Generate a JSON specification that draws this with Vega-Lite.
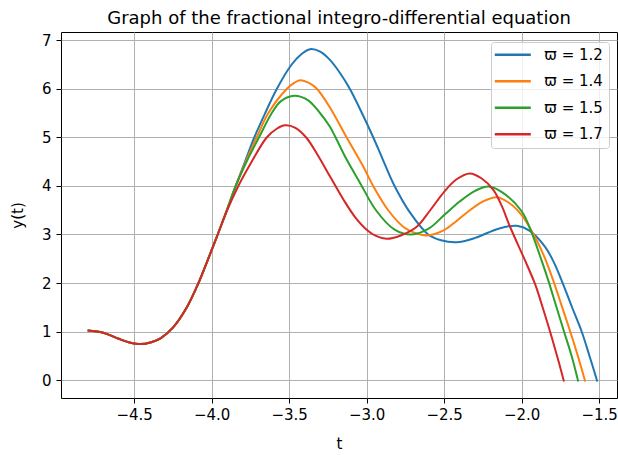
{
  "$schema": "https://vega.github.io/schema/vega-lite/v6.json",
  "width": 556,
  "height": 366,
  "autosize": {"type": "none"},
  "padding": {"left": 61, "top": 32, "right": 1, "bottom": 57},
  "background": "white",
  "title": {"text": "Graph of the fractional integro-differential equation", "fontSize": 18, "font": "DejaVu Sans", "fontWeight": "normal", "color": "black", "baseline": "bottom", "offset": -14, "anchor": "middle"},
  "config": {
    "view": {"stroke": "black", "strokeWidth": 1},
    "font": "DejaVu Sans",
    "axis": {
      "grid": true, "gridColor": "#b0b0b0", "gridWidth": 1, "gridOpacity": 1,
      "domain": false,
      "tickColor": "black", "tickSize": 5, "tickWidth": 1,
      "labelFont": "DejaVu Sans", "labelFontSize": 15, "labelColor": "black", "labelPadding": 4,
      "titleFont": "DejaVu Sans", "titleFontSize": 15, "titleFontWeight": "normal", "titleColor": "black"
    }
  },
  "datasets": {
    "pts": [
      {"t": -4.8, "y": 1.02, "s": "ϖ = 1.2"}, {"t": -4.7, "y": 0.975, "s": "ϖ = 1.2"}, {"t": -4.6, "y": 0.85, "s": "ϖ = 1.2"}, {"t": -4.53, "y": 0.775, "s": "ϖ = 1.2"}, {"t": -4.46, "y": 0.74, "s": "ϖ = 1.2"}, {"t": -4.39, "y": 0.78, "s": "ϖ = 1.2"}, {"t": -4.33, "y": 0.86, "s": "ϖ = 1.2"}, {"t": -4.25, "y": 1.08, "s": "ϖ = 1.2"}, {"t": -4.16, "y": 1.5, "s": "ϖ = 1.2"}, {"t": -4.085, "y": 2.0, "s": "ϖ = 1.2"}, {"t": -4.011, "y": 2.59, "s": "ϖ = 1.2"}, {"t": -3.961, "y": 3.0, "s": "ϖ = 1.2"}, {"t": -3.9, "y": 3.52, "s": "ϖ = 1.2"}, {"t": -3.845, "y": 4.0, "s": "ϖ = 1.2"},
      {"t": -3.785, "y": 4.5, "s": "ϖ = 1.2"}, {"t": -3.725, "y": 5.0, "s": "ϖ = 1.2"}, {"t": -3.655, "y": 5.5, "s": "ϖ = 1.2"}, {"t": -3.58, "y": 6.0, "s": "ϖ = 1.2"}, {"t": -3.485, "y": 6.5, "s": "ϖ = 1.2"}, {"t": -3.42, "y": 6.72, "s": "ϖ = 1.2"}, {"t": -3.366, "y": 6.82, "s": "ϖ = 1.2"}, {"t": -3.3, "y": 6.77, "s": "ϖ = 1.2"}, {"t": -3.237, "y": 6.6, "s": "ϖ = 1.2"}, {"t": -3.17, "y": 6.32, "s": "ϖ = 1.2"}, {"t": -3.108, "y": 6.0, "s": "ϖ = 1.2"}, {"t": -3.03, "y": 5.5, "s": "ϖ = 1.2"}, {"t": -2.957, "y": 5.0, "s": "ϖ = 1.2"}, {"t": -2.895, "y": 4.54, "s": "ϖ = 1.2"}, {"t": -2.82, "y": 4.0, "s": "ϖ = 1.2"}, {"t": -2.72, "y": 3.45, "s": "ϖ = 1.2"}, {"t": -2.603, "y": 3.0, "s": "ϖ = 1.2"}, {"t": -2.52, "y": 2.88, "s": "ϖ = 1.2"}, {"t": -2.42, "y": 2.84, "s": "ϖ = 1.2"}, {"t": -2.3, "y": 2.93, "s": "ϖ = 1.2"}, {"t": -2.15, "y": 3.12, "s": "ϖ = 1.2"}, {"t": -2.032, "y": 3.18, "s": "ϖ = 1.2"}, {"t": -1.95, "y": 3.08, "s": "ϖ = 1.2"}, {"t": -1.85, "y": 2.75, "s": "ϖ = 1.2"}, {"t": -1.796, "y": 2.45, "s": "ϖ = 1.2"}, {"t": -1.742, "y": 2.05, "s": "ϖ = 1.2"}, {"t": -1.675, "y": 1.5, "s": "ϖ = 1.2"}, {"t": -1.613, "y": 1.0, "s": "ϖ = 1.2"}, {"t": -1.563, "y": 0.5, "s": "ϖ = 1.2"}, {"t": -1.512, "y": -0.03, "s": "ϖ = 1.2"},

      {"t": -4.8, "y": 1.02, "s": "ϖ = 1.4"}, {"t": -4.7, "y": 0.975, "s": "ϖ = 1.4"}, {"t": -4.6, "y": 0.85, "s": "ϖ = 1.4"}, {"t": -4.53, "y": 0.775, "s": "ϖ = 1.4"}, {"t": -4.46, "y": 0.74, "s": "ϖ = 1.4"}, {"t": -4.39, "y": 0.78, "s": "ϖ = 1.4"}, {"t": -4.33, "y": 0.86, "s": "ϖ = 1.4"}, {"t": -4.25, "y": 1.08, "s": "ϖ = 1.4"}, {"t": -4.16, "y": 1.5, "s": "ϖ = 1.4"}, {"t": -4.085, "y": 2.0, "s": "ϖ = 1.4"}, {"t": -4.011, "y": 2.59, "s": "ϖ = 1.4"}, {"t": -3.961, "y": 3.0, "s": "ϖ = 1.4"}, {"t": -3.9, "y": 3.52, "s": "ϖ = 1.4"}, {"t": -3.845, "y": 4.0, "s": "ϖ = 1.4"},
      {"t": -3.78, "y": 4.5, "s": "ϖ = 1.4"}, {"t": -3.71, "y": 5.0, "s": "ϖ = 1.4"}, {"t": -3.635, "y": 5.5, "s": "ϖ = 1.4"}, {"t": -3.516, "y": 6.0, "s": "ϖ = 1.4"}, {"t": -3.47, "y": 6.12, "s": "ϖ = 1.4"}, {"t": -3.43, "y": 6.18, "s": "ϖ = 1.4"}, {"t": -3.37, "y": 6.12, "s": "ϖ = 1.4"}, {"t": -3.323, "y": 6.01, "s": "ϖ = 1.4"}, {"t": -3.237, "y": 5.62, "s": "ϖ = 1.4"}, {"t": -3.129, "y": 5.0, "s": "ϖ = 1.4"}, {"t": -3.022, "y": 4.4, "s": "ϖ = 1.4"}, {"t": -2.958, "y": 4.0, "s": "ϖ = 1.4"}, {"t": -2.861, "y": 3.5, "s": "ϖ = 1.4"}, {"t": -2.76, "y": 3.15, "s": "ϖ = 1.4"}, {"t": -2.688, "y": 3.03, "s": "ϖ = 1.4"}, {"t": -2.613, "y": 2.98, "s": "ϖ = 1.4"}, {"t": -2.5, "y": 3.09, "s": "ϖ = 1.4"}, {"t": -2.42, "y": 3.28, "s": "ϖ = 1.4"}, {"t": -2.334, "y": 3.5, "s": "ϖ = 1.4"}, {"t": -2.25, "y": 3.68, "s": "ϖ = 1.4"}, {"t": -2.161, "y": 3.77, "s": "ϖ = 1.4"}, {"t": -2.08, "y": 3.65, "s": "ϖ = 1.4"}, {"t": -2.0, "y": 3.4, "s": "ϖ = 1.4"}, {"t": -1.914, "y": 2.95, "s": "ϖ = 1.4"}, {"t": -1.855, "y": 2.55, "s": "ϖ = 1.4"}, {"t": -1.796, "y": 2.05, "s": "ϖ = 1.4"}, {"t": -1.745, "y": 1.56, "s": "ϖ = 1.4"}, {"t": -1.69, "y": 1.03, "s": "ϖ = 1.4"}, {"t": -1.64, "y": 0.52, "s": "ϖ = 1.4"}, {"t": -1.59, "y": -0.03, "s": "ϖ = 1.4"},

      {"t": -4.8, "y": 1.02, "s": "ϖ = 1.5"}, {"t": -4.7, "y": 0.975, "s": "ϖ = 1.5"}, {"t": -4.6, "y": 0.85, "s": "ϖ = 1.5"}, {"t": -4.53, "y": 0.775, "s": "ϖ = 1.5"}, {"t": -4.46, "y": 0.74, "s": "ϖ = 1.5"}, {"t": -4.39, "y": 0.78, "s": "ϖ = 1.5"}, {"t": -4.33, "y": 0.86, "s": "ϖ = 1.5"}, {"t": -4.25, "y": 1.08, "s": "ϖ = 1.5"}, {"t": -4.16, "y": 1.5, "s": "ϖ = 1.5"}, {"t": -4.085, "y": 2.0, "s": "ϖ = 1.5"}, {"t": -4.011, "y": 2.59, "s": "ϖ = 1.5"}, {"t": -3.961, "y": 3.0, "s": "ϖ = 1.5"}, {"t": -3.9, "y": 3.52, "s": "ϖ = 1.5"}, {"t": -3.845, "y": 4.0, "s": "ϖ = 1.5"},
      {"t": -3.775, "y": 4.5, "s": "ϖ = 1.5"}, {"t": -3.695, "y": 5.0, "s": "ϖ = 1.5"}, {"t": -3.613, "y": 5.5, "s": "ϖ = 1.5"}, {"t": -3.553, "y": 5.75, "s": "ϖ = 1.5"}, {"t": -3.467, "y": 5.86, "s": "ϖ = 1.5"}, {"t": -3.38, "y": 5.77, "s": "ϖ = 1.5"}, {"t": -3.3, "y": 5.5, "s": "ϖ = 1.5"}, {"t": -3.237, "y": 5.22, "s": "ϖ = 1.5"}, {"t": -3.205, "y": 5.03, "s": "ϖ = 1.5"}, {"t": -3.13, "y": 4.55, "s": "ϖ = 1.5"}, {"t": -3.047, "y": 4.09, "s": "ϖ = 1.5"}, {"t": -2.94, "y": 3.5, "s": "ϖ = 1.5"}, {"t": -2.82, "y": 3.1, "s": "ϖ = 1.5"}, {"t": -2.71, "y": 3.0, "s": "ϖ = 1.5"}, {"t": -2.6, "y": 3.12, "s": "ϖ = 1.5"}, {"t": -2.5, "y": 3.4, "s": "ϖ = 1.5"}, {"t": -2.4, "y": 3.68, "s": "ϖ = 1.5"}, {"t": -2.3, "y": 3.9, "s": "ϖ = 1.5"}, {"t": -2.215, "y": 3.99, "s": "ϖ = 1.5"}, {"t": -2.13, "y": 3.88, "s": "ϖ = 1.5"}, {"t": -2.0, "y": 3.48, "s": "ϖ = 1.5"}, {"t": -1.937, "y": 3.05, "s": "ϖ = 1.5"}, {"t": -1.87, "y": 2.45, "s": "ϖ = 1.5"}, {"t": -1.828, "y": 2.05, "s": "ϖ = 1.5"}, {"t": -1.78, "y": 1.55, "s": "ϖ = 1.5"}, {"t": -1.73, "y": 1.03, "s": "ϖ = 1.5"}, {"t": -1.68, "y": 0.52, "s": "ϖ = 1.5"}, {"t": -1.635, "y": -0.03, "s": "ϖ = 1.5"},

      {"t": -4.8, "y": 1.02, "s": "ϖ = 1.7"}, {"t": -4.7, "y": 0.975, "s": "ϖ = 1.7"}, {"t": -4.6, "y": 0.85, "s": "ϖ = 1.7"}, {"t": -4.53, "y": 0.775, "s": "ϖ = 1.7"}, {"t": -4.46, "y": 0.74, "s": "ϖ = 1.7"}, {"t": -4.39, "y": 0.78, "s": "ϖ = 1.7"}, {"t": -4.33, "y": 0.86, "s": "ϖ = 1.7"}, {"t": -4.25, "y": 1.08, "s": "ϖ = 1.7"}, {"t": -4.16, "y": 1.5, "s": "ϖ = 1.7"}, {"t": -4.085, "y": 2.0, "s": "ϖ = 1.7"}, {"t": -4.011, "y": 2.59, "s": "ϖ = 1.7"}, {"t": -3.961, "y": 3.0, "s": "ϖ = 1.7"}, {"t": -3.9, "y": 3.5, "s": "ϖ = 1.7"}, {"t": -3.828, "y": 4.0, "s": "ϖ = 1.7"},
      {"t": -3.742, "y": 4.5, "s": "ϖ = 1.7"}, {"t": -3.645, "y": 5.0, "s": "ϖ = 1.7"}, {"t": -3.58, "y": 5.18, "s": "ϖ = 1.7"}, {"t": -3.527, "y": 5.25, "s": "ϖ = 1.7"}, {"t": -3.46, "y": 5.2, "s": "ϖ = 1.7"}, {"t": -3.39, "y": 5.0, "s": "ϖ = 1.7"}, {"t": -3.32, "y": 4.66, "s": "ϖ = 1.7"}, {"t": -3.237, "y": 4.2, "s": "ϖ = 1.7"}, {"t": -3.15, "y": 3.72, "s": "ϖ = 1.7"}, {"t": -3.075, "y": 3.36, "s": "ϖ = 1.7"}, {"t": -3.0, "y": 3.1, "s": "ϖ = 1.7"}, {"t": -2.94, "y": 2.97, "s": "ϖ = 1.7"}, {"t": -2.871, "y": 2.91, "s": "ϖ = 1.7"}, {"t": -2.78, "y": 2.98, "s": "ϖ = 1.7"}, {"t": -2.677, "y": 3.16, "s": "ϖ = 1.7"}, {"t": -2.59, "y": 3.5, "s": "ϖ = 1.7"}, {"t": -2.5, "y": 3.88, "s": "ϖ = 1.7"}, {"t": -2.42, "y": 4.14, "s": "ϖ = 1.7"}, {"t": -2.334, "y": 4.26, "s": "ϖ = 1.7"}, {"t": -2.26, "y": 4.16, "s": "ϖ = 1.7"}, {"t": -2.183, "y": 3.92, "s": "ϖ = 1.7"}, {"t": -2.13, "y": 3.6, "s": "ϖ = 1.7"}, {"t": -2.075, "y": 3.16, "s": "ϖ = 1.7"}, {"t": -1.979, "y": 2.47, "s": "ϖ = 1.7"}, {"t": -1.914, "y": 1.98, "s": "ϖ = 1.7"}, {"t": -1.865, "y": 1.5, "s": "ϖ = 1.7"}, {"t": -1.817, "y": 1.0, "s": "ϖ = 1.7"}, {"t": -1.772, "y": 0.5, "s": "ϖ = 1.7"}, {"t": -1.727, "y": -0.03, "s": "ϖ = 1.7"}
    ]
  },
  "data": {"name": "pts"},
  "mark": {"type": "line", "interpolate": "catmull-rom", "strokeWidth": 2},
  "encoding": {
    "x": {"field": "t", "type": "quantitative", "title": "t",
      "scale": {"domain": [-4.972, -1.385], "nice": false, "zero": false},
      "axis": {"values": [-4.5, -4.0, -3.5, -3.0, -2.5, -2.0, -1.5], "format": ".1f", "titlePadding": 14}},
    "y": {"field": "y", "type": "quantitative", "title": "y(t)",
      "scale": {"domain": [-0.371, 7.175], "nice": false, "zero": false},
      "axis": {"values": [0, 1, 2, 3, 4, 5, 6, 7], "format": "d", "labelPadding": 5, "titlePadding": 16}},
    "color": {"field": "s", "type": "nominal",
      "scale": {"domain": ["ϖ = 1.2", "ϖ = 1.4", "ϖ = 1.5", "ϖ = 1.7"], "range": ["#1f77b4", "#ff7f0e", "#2ca02c", "#d62728"]},
      "legend": {"title": null, "orient": "none", "legendX": 430, "legendY": 10,
        "symbolType": "M-1.5,0L4.5,0", "symbolSize": 144, "symbolStrokeWidth": 2.5,
        "labelFontSize": 15, "labelFont": "DejaVu Sans", "labelColor": "black",
        "rowPadding": 10.5, "labelOffset": 33, "padding": 5.3,
        "strokeColor": "#cccccc", "fillColor": "rgba(255,255,255,0.8)", "cornerRadius": 3}}
  }
}
